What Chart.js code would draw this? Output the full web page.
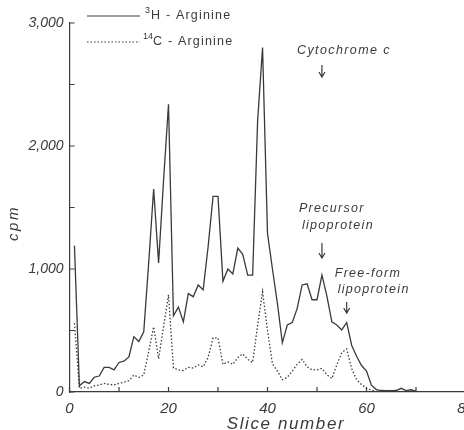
<!DOCTYPE html>
<html>
<head>
<meta charset="utf-8">
<script src="https://cdn.jsdelivr.net/npm/chart.js@4"></script>
<style>
  html, body { margin: 0; padding: 0; background: #fff; overflow: hidden; }
  #wrap { width: 470px; height: 430px; }
</style>
</head>
<body>
<div id="wrap"><canvas id="sliceChart"></canvas></div>
<script>
// 3H-Arginine cpm, slices 1..70
const h3Cpm = [
    1190, 50, 85, 70, 120, 130, 200, 200, 180, 240,
    250, 285, 450, 410, 490, 1050, 1650, 1050, 1720, 2340,
    620, 690, 570, 800, 775, 870, 830, 1180, 1590, 1590,
    900, 1000, 960, 1170, 1120, 950, 950, 2200, 2800, 1290,
    1000, 720, 400, 545, 565, 680, 870, 880, 750, 750,
    950, 780, 570, 545, 505, 565, 380, 290, 215, 170,
    55, 20, 12, 10, 10, 12, 30, 12, 18, 8
];
// 14C-Arginine cpm, slices 1..62
const c14Cpm = [
    560, 30, 40, 30, 50, 57, 70, 62, 57, 70,
    80, 92, 138, 119, 138, 330, 530, 270, 530, 790,
    195, 180, 175, 200, 195, 220, 205, 280, 440, 440,
    225, 245, 225, 280, 310, 265, 240, 540, 815, 500,
    230, 170, 100, 120, 170, 225, 265, 205, 180, 180,
    192, 140, 110, 220, 320, 350, 190, 100, 60, 30,
    15, 5
];
const firstSlice = 1;
const seriesLabels = ['H - Arginine', 'C - Arginine'];
const isotopes = ['3', '14'];
const xTicks = [0, 10, 20, 30, 40, 50, 60, 70, 80];
const yTicks = [0, 500, 1000, 1500, 2000, 2500, 3000];
// markers pointing at a slice
const notes = [
    { lines: ['Cytochrome c'], slice: 51 },
    { lines: ['Precursor', 'lipoprotein'], slice: 51 },
    { lines: ['Free-form', 'lipoprotein'], slice: 56 }
];

const ink = '#3a3a3a';
const fontFamily = '"Liberation Sans", "DejaVu Sans", sans-serif';

function toPoints(values) {
    return values.map((v, i) => ({ x: firstSlice + i, y: v }));
}

function drawText(ctx, text, x, y, size, italic, spacing, align) {
    ctx.font = (italic ? 'italic ' : '') + size + 'px ' + fontFamily;
    ctx.letterSpacing = spacing + 'px';
    ctx.textAlign = align || 'left';
    ctx.textBaseline = 'middle';
    ctx.fillText(text, x, y);
}

function drawArrow(ctx, x, y1, y2) {
    ctx.beginPath();
    ctx.moveTo(x, y1);
    ctx.lineTo(x, y2);
    ctx.moveTo(x - 3, y2 - 5);
    ctx.lineTo(x, y2);
    ctx.lineTo(x + 3, y2 - 5);
    ctx.stroke();
}

// Extra drawing: inward ticks, legend, notes, axis titles
const figureText = {
    id: 'figureText',
    afterDraw(chart) {
        const ctx = chart.ctx;
        const xs = chart.scales.x;
        const ys = chart.scales.y;
        ctx.save();
        ctx.strokeStyle = ink;
        ctx.fillStyle = ink;
        ctx.lineWidth = 1.2;

        // ticks point into the plot
        ctx.beginPath();
        xTicks.forEach(t => {
            const px = xs.getPixelForValue(t);
            ctx.moveTo(px, ys.bottom);
            ctx.lineTo(px, ys.bottom - 5);
        });
        yTicks.forEach(t => {
            const py = ys.getPixelForValue(t);
            ctx.moveTo(xs.left, py);
            ctx.lineTo(xs.left + 5, py);
        });
        ctx.stroke();

        // legend
        const legendY = [16, 42];
        ctx.beginPath();
        ctx.moveTo(87, legendY[0]);
        ctx.lineTo(140, legendY[0]);
        ctx.stroke();
        ctx.save();
        ctx.setLineDash([1.5, 2]);
        ctx.beginPath();
        ctx.moveTo(87, legendY[1]);
        ctx.lineTo(140, legendY[1]);
        ctx.stroke();
        ctx.restore();
        drawText(ctx, isotopes[0], 145, legendY[0] - 5, 9, false, 0);
        drawText(ctx, seriesLabels[0], 151, legendY[0], 12.5, false, 1.2);
        drawText(ctx, isotopes[1], 143, legendY[1] - 5, 9, false, 0);
        drawText(ctx, seriesLabels[1], 153, legendY[1], 12.5, false, 1.2);

        // notes with arrows
        const cyto = xs.getPixelForValue(notes[0].slice);
        drawText(ctx, notes[0].lines[0], cyto - 25, 51, 12.5, true, 1.4);
        drawArrow(ctx, cyto, 65, 77);
        const pre = xs.getPixelForValue(notes[1].slice);
        drawText(ctx, notes[1].lines[0], pre - 23, 209, 12.5, true, 1.3);
        drawText(ctx, notes[1].lines[1], pre - 20, 226, 12.5, true, 1.3);
        drawArrow(ctx, pre, 243, 258);
        const free = xs.getPixelForValue(notes[2].slice);
        drawText(ctx, notes[2].lines[0], free - 12, 274, 12.5, true, 1.3);
        drawText(ctx, notes[2].lines[1], free - 9, 290, 12.5, true, 1.3);
        drawArrow(ctx, free, 302, 313);

        // axis titles
        drawText(ctx, 'Slice number', 286, 424, 17, true, 1.6, 'center');
        ctx.translate(14, 223);
        ctx.rotate(-Math.PI / 2);
        drawText(ctx, 'cpm', 0, 0, 15, true, 2.5, 'center');
        ctx.restore();
    }
};

const sliceChart = document.getElementById('sliceChart');
new Chart(sliceChart, {
    type: 'line',
    data: {
        datasets: [
            {
                label: '3H-Arginine',
                data: toPoints(h3Cpm),
                borderColor: ink,
                borderWidth: 1.3,
                pointRadius: 0,
                tension: 0,
                fill: false
            },
            {
                label: '14C-Arginine',
                data: toPoints(c14Cpm),
                borderColor: ink,
                borderWidth: 1.3,
                borderDash: [1.5, 2],
                pointRadius: 0,
                tension: 0,
                fill: false
            }
        ]
    },
    options: {
        responsive: true,
        maintainAspectRatio: false,
        animation: false,
        layout: { padding: { top: 23, right: 4.5, left: 0, bottom: 0 } },
        plugins: {
            legend: { display: false },
            tooltip: { enabled: false }
        },
        scales: {
            x: {
                type: 'linear',
                min: 0,
                max: 80,
                afterBuildTicks: (axis) => { axis.ticks = xTicks.map(v => ({ value: v })); },
                afterFit: (axis) => {
                    axis.height = 38;
                    axis.paddingLeft = 0;
                    axis.paddingRight = 0;
                },
                grid: { display: true, drawOnChartArea: false, drawTicks: false },
                border: { display: true, color: ink, width: 1.2 },
                ticks: {
                    autoSkip: false,
                    maxRotation: 0,
                    padding: 8,
                    color: ink,
                    font: { family: fontFamily, size: 15, style: 'italic' },
                    callback: (v) => (v % 20 === 0 ? String(v) : '')
                }
            },
            y: {
                min: 0,
                max: 3000,
                afterBuildTicks: (axis) => { axis.ticks = yTicks.map(v => ({ value: v })); },
                afterFit: (axis) => {
                    axis.width = 69.5;
                    axis.paddingTop = 0;
                    axis.paddingBottom = 0;
                },
                grid: { display: true, drawOnChartArea: false, drawTicks: false },
                border: { display: true, color: ink, width: 1.2 },
                ticks: {
                    autoSkip: false,
                    padding: 6,
                    color: ink,
                    font: { family: fontFamily, size: 14, style: 'italic' },
                    callback: (v) => (v % 1000 === 0 ? v.toLocaleString('en-US') : '')
                }
            }
        }
    },
    plugins: [figureText]
});
</script>
</body>
</html>
